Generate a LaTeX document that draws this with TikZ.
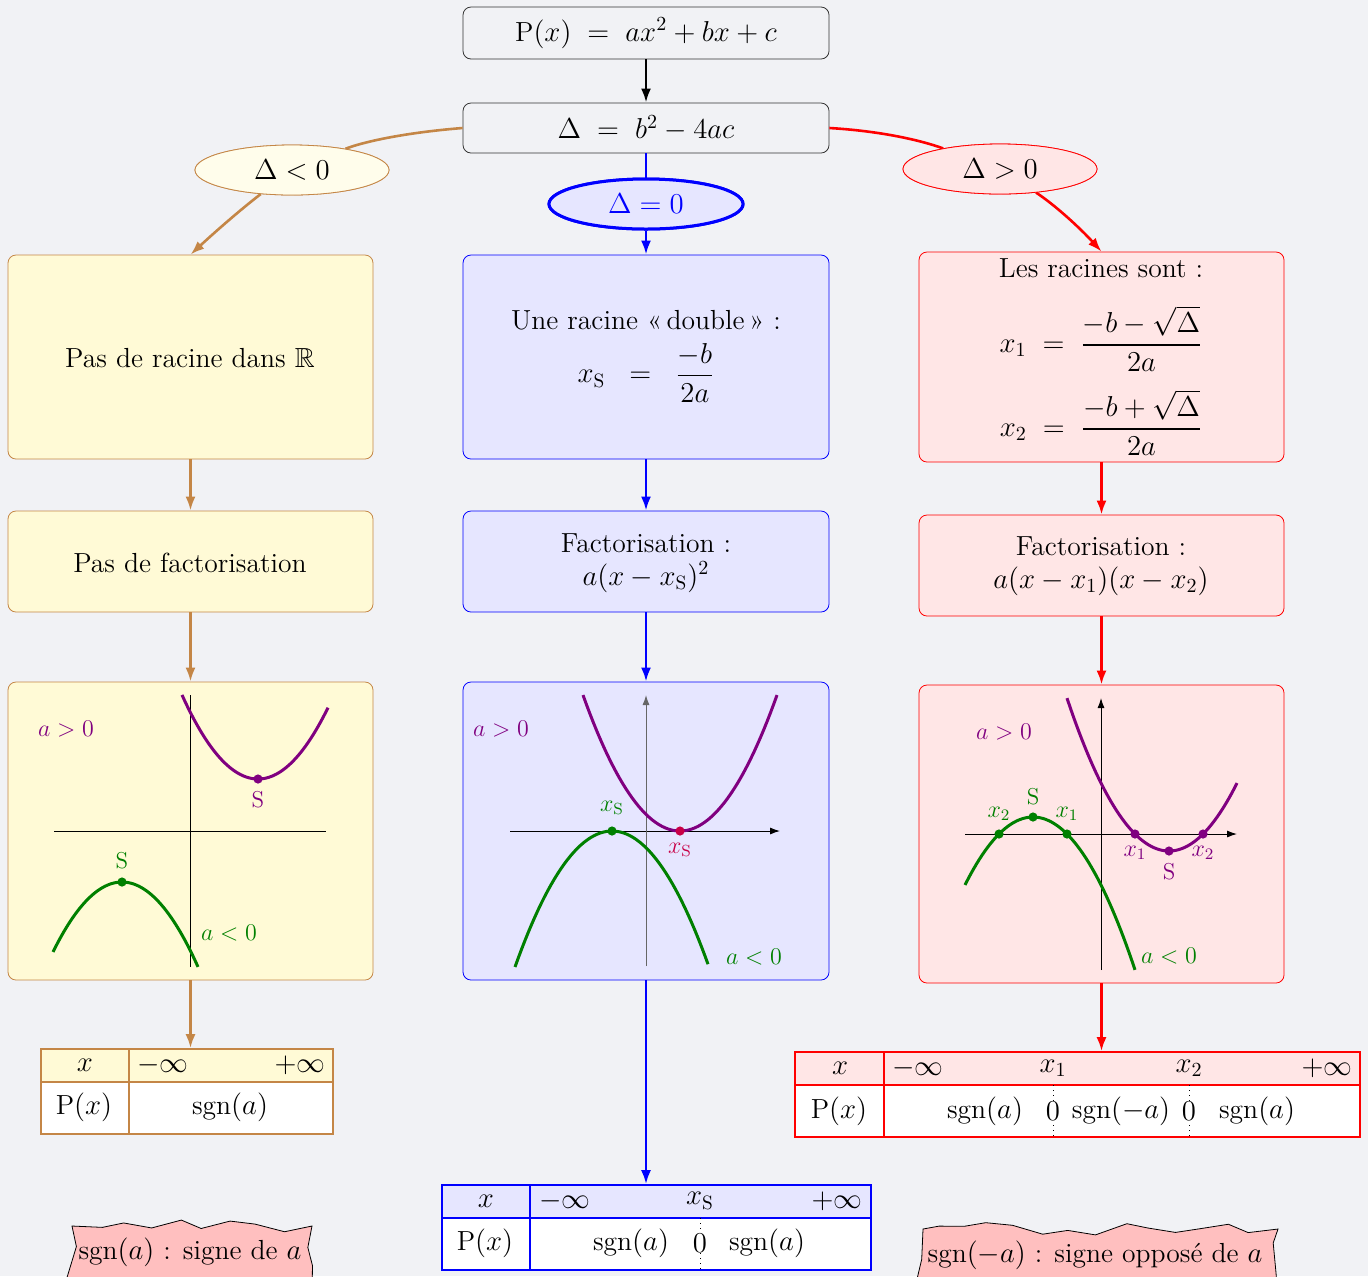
\documentclass[tikz,border=0pt]{standalone}
\usepackage{amsmath,amssymb}
\usepackage{fontspec}
\usetikzlibrary{shapes.geometric,arrows.meta,decorations.pathmorphing}
\definecolor{bgc}{RGB}{241,242,245}
\definecolor{yfill}{RGB}{255,250,214}
\definecolor{yefill}{RGB}{255,253,235}
\definecolor{bfill}{RGB}{230,230,255}
\definecolor{rfill}{RGB}{255,230,230}
\definecolor{tfill}{RGB}{255,191,191}
\definecolor{brc}{RGB}{196,134,70}
\definecolor{grn}{RGB}{0,128,0}
\definecolor{vio}{RGB}{128,0,128}
\definecolor{crim}{RGB}{200,0,70}
\tikzset{
  topbox/.style={draw=black!80, rounded corners=4pt, minimum width=183pt, inner sep=0pt},
  boxL/.style={draw=brc, fill=yfill, rounded corners=4pt, minimum width=182.5pt, inner sep=0pt},
  boxM/.style={draw=blue, fill=bfill, rounded corners=4pt, minimum width=183pt, inner sep=0pt},
  boxR/.style={draw=red, fill=rfill, rounded corners=4pt, minimum width=182.5pt, inner sep=0pt},
  ellbase/.style={ellipse, inner sep=0pt, minimum width=97pt, minimum height=25pt},
  ellL/.style={ellbase, draw=brc, fill=yefill},
  ellM/.style={ellbase, draw=blue, line width=1.5pt, fill=bfill, text=blue},
  ellR/.style={ellbase, draw=red, fill=rfill},
  tip/.style={-{Latex[length=7pt,width=5pt]}},
  conb/.style={draw=brc, line width=1.3pt},
  conl/.style={draw=blue, line width=1.3pt},
  conr/.style={draw=red, line width=1.3pt},
  conk/.style={draw=black, line width=1.3pt},
  curveV/.style={draw=vio, line width=1.5pt},
  curveG/.style={draw=grn, line width=1.5pt},
  axisline/.style={draw=black, line width=0.5pt},
  axisarrow/.style={draw=black, line width=0.5pt, -{Latex[length=5pt,width=3.5pt]}},
  small/.style={font=\fontsize{11.5}{13.5}\selectfont, inner sep=1pt},
  tabframe/.style={inner sep=0pt, minimum height=42.5pt, line width=0.8pt},
  torn/.style={draw=black, line width=0.4pt, fill=tfill, decorate,
     decoration={random steps, segment length=13pt, amplitude=3.5pt}, inner sep=0pt},
}
\begin{document}
\begin{tikzpicture}[x=0.5pt,y=0.5pt,font=\fontsize{13.8}{16.5}\selectfont]
\fill[bgc] (0,0) rectangle (1368,-1276);
\useasboundingbox (0,0) rectangle (1368,-1276);
\clip (0,0) rectangle (1368,-1276);

% ---------- top ----------
\node[topbox, minimum height=26pt] (P) at (646,-33) {$\mathrm{P}(x) \;=\; ax^2+bx+c$};
\node[topbox, minimum height=25pt] (D) at (646,-128) {$\Delta \;=\; b^2-4ac$};

% ---------- boxes ----------
\node[boxL, minimum height=102pt] (L1) at (190.5,-357) {};
\node[boxM, minimum height=102pt] (M1) at (646,-357) {};
\node[boxR, minimum height=105pt] (R1) at (1101.5,-357) {};
\node[boxL, minimum height=50.5pt] (L2) at (190.5,-561.5) {};
\node[boxM, minimum height=50.5pt] (M2) at (646,-561.5) {};
\node[boxR, minimum height=50.5pt] (R2) at (1101.5,-565.5) {};
\node[boxL, minimum height=149pt] (L3) at (190.5,-831) {};
\node[boxM, minimum height=149pt] (M3) at (646,-831) {};
\node[boxR, minimum height=149pt] (R3) at (1101.5,-834) {};

% ---------- tables (backgrounds) ----------
\fill[yfill] (41,-1049) rectangle (333,-1082);
\fill[white] (41,-1082) rectangle (333,-1134);
\fill[bfill] (442,-1185) rectangle (871,-1218);
\fill[white] (442,-1218) rectangle (871,-1270);
\fill[rfill] (795,-1052) rectangle (1360,-1085);
\fill[white] (795,-1085) rectangle (1360,-1137);
\node[tabframe, draw=brc, minimum width=146pt] (TL) at (187,-1091.5) {};
\node[tabframe, draw=blue, minimum width=214.5pt] (TM) at (656.5,-1227.5) {};
\node[tabframe, draw=red, minimum width=282.5pt] (TR) at (1077.5,-1094.5) {};
\draw[brc, line width=0.8pt] (41,-1082) -- (333,-1082) (129,-1049) -- (129,-1134);
\draw[blue, line width=0.8pt] (442,-1218) -- (871,-1218) (530,-1185) -- (530,-1270);
\draw[red, line width=0.8pt] (795,-1085) -- (1360,-1085) (884,-1052) -- (884,-1137);
\draw[black, dotted, line width=0.5pt] (700,-1218) -- (700,-1270);
\draw[black, dotted, line width=0.5pt] (1053,-1085) -- (1053,-1137);
\draw[black, dotted, line width=0.5pt] (1189,-1085) -- (1189,-1137);

% ---------- connectors ----------
\draw[conk, tip] (P) -- (D);
\node[ellL] (eL) at (292,-170) {};
\node[ellM] (eM) at (646,-204) {};
\node[ellR] (eR) at (1000,-169) {};
\draw[conb] (D.west) .. controls (400,-133) and (360,-143) .. (eL);
\draw[conb, tip] (eL) .. controls (240,-210) and (215,-232) .. (L1.north);
\draw[conl] (D) -- (eM);
\draw[conl, tip] (eM) -- (M1);
\draw[conr] (D.east) .. controls (880,-131) and (920,-140) .. (eR);
\draw[conr, tip] (eR) .. controls (1055,-205) and (1080,-228) .. (R1.north);
\node[ellL] (eL2) at (eL) {$\Delta<0$};
\node[ellM] (eM2) at (eM) {$\Delta=0$};
\node[ellR] (eR2) at (eR) {$\Delta>0$};

\coordinate (TLtop) at (L3.south |- TL.north);
\coordinate (TMtop) at (M3.south |- TM.north);
\coordinate (TRtop) at (R3.south |- TR.north);
\draw[conb, tip] (L1) -- (L2);
\draw[conb, tip] (L2) -- (L3);
\draw[conb, tip] (L3.south) -- (TLtop);
\draw[conl, tip] (M1) -- (M2);
\draw[conl, tip] (M2) -- (M3);
\draw[conl, tip] (M3.south) -- (TMtop);
\draw[conr, tip] (R1) -- (R2);
\draw[conr, tip] (R2) -- (R3);
\draw[conr, tip] (R3.south) -- (TRtop);

% ---------- box texts ----------
\node (L1t) at (190,-358) {Pas de racine dans $\mathbb{R}$};
\node (M1a) at (646,-320) {Une racine «\,double\,» :};
\node[inner sep=0pt] (M1b) at (646,-373) {$x_{\mathrm S}\;\;=\;\;\dfrac{-b}{2a}$};
\node[inner sep=0pt] (R1a) at (1101,-268) {Les racines sont :};
\node[inner sep=0pt] (R1b) at (1101,-339) {$x_1\;=\;\dfrac{-b-\sqrt{\Delta}}{2a}$};
\node[inner sep=0pt] (R1c) at (1101,-423) {$x_2\;=\;\dfrac{-b+\sqrt{\Delta}}{2a}$};
\node (L2t) at (190,-563) {Pas de factorisation};
\node (M2a) at (646,-543) {Factorisation :};
\node (M2b) at (646,-577) {$a(x-x_{\mathrm S})^2$};
\node (R2a) at (1101,-546) {Factorisation :};
\node (R2b) at (1101,-581) {$a(x-x_1)(x-x_2)$};

% ---------- left graph ----------
\draw[axisline] (54,-831) -- (326,-831);
\draw[axisline] (190,-695) -- (190,-967);
\draw[curveV] plot[domain=182:328, samples=60] (\x,{-779+0.01455*(\x-258)^2});
\draw[curveG] plot[domain=53:198, samples=60] (\x,{-882-0.0147*(\x-122)^2});
\fill[vio] (258,-779) circle (2.3pt);
\fill[grn] (122,-882) circle (2.3pt);
\node[small, text=vio] (LS1) at (258,-800) {S};
\node[small, text=grn] (LS2) at (122,-861) {S};
\node[small, text=vio] (La1) at (66,-729) {$a>0$};
\node[small, text=grn] (La2) at (229,-933) {$a<0$};

% ---------- middle graph ----------
\draw[axisarrow] (510,-831) -- (780,-831);
\draw[axisarrow, draw=black!60] (646,-966) -- (646,-695);
\draw[curveV] plot[domain=583:777, samples=60] (\x,{-831+0.01445*(\x-680)^2});
\draw[curveG] plot[domain=515:708, samples=60] (\x,{-831-0.01445*(\x-612)^2});
\fill[crim] (680,-831) circle (2.3pt);
\fill[grn] (612,-831) circle (2.3pt);
\node[small, text=crim] (MS1) at (680,-850) {$x_{\mathrm S}$};
\node[small, text=grn] (MS2) at (612,-808) {$x_{\mathrm S}$};
\node[small, text=vio] (Ma1) at (501,-729) {$a>0$};
\node[small, text=grn] (Ma2) at (754,-957) {$a<0$};

% ---------- right graph ----------
\draw[axisarrow] (965,-834) -- (1237,-834);
\draw[axisarrow] (1101,-970) -- (1101,-698);
\draw[curveV] plot[domain=1067:1237, samples=60] (\x,{-851+0.0147*(\x-1169)^2});
\draw[curveG] plot[domain=965:1135, samples=60] (\x,{-817-0.0147*(\x-1033)^2});
\fill[vio] (1135,-834) circle (2.3pt) (1169,-851) circle (2.3pt) (1203,-834) circle (2.3pt);
\fill[grn] (999,-834) circle (2.3pt) (1033,-817) circle (2.3pt) (1067,-834) circle (2.3pt);
\node[small, text=vio] (Rx1) at (1135,-853) {$x_1$};
\node[small, text=vio] (RS1) at (1169,-872) {S};
\node[small, text=vio] (Rx2) at (1203,-853) {$x_2$};
\node[small, text=grn] (Rg2) at (999,-814) {$x_2$};
\node[small, text=grn] (RS2) at (1033,-797) {S};
\node[small, text=grn] (Rg1) at (1067,-814) {$x_1$};
\node[small, text=vio] (Ra1) at (1004,-732) {$a>0$};
\node[small, text=grn] (Ra2) at (1169,-956) {$a<0$};

% ---------- table texts ----------
\node (TL1) at (85,-1065) {$x$};
\node (TL2) at (163,-1065) {$-\infty$};
\node (TL3) at (300,-1065) {$+\infty$};
\node (TL4) at (84,-1107) {$\mathrm{P}(x)$};
\node (TL5) at (230,-1107) {sgn$(a)$};

\node (TM1) at (486,-1201) {$x$};
\node (TM2) at (565,-1201) {$-\infty$};
\node (TM3) at (700,-1201) {$x_{\mathrm S}$};
\node (TM4) at (837,-1201) {$+\infty$};
\node (TM5) at (485,-1243) {$\mathrm{P}(x)$};
\node (TM6) at (631,-1243) {sgn$(a)$};
\node[fill=white, inner sep=0.5pt] (TM7) at (700,-1243) {$0$};
\node (TM8) at (767,-1243) {sgn$(a)$};

\node (TR1) at (840,-1068) {$x$};
\node (TR2) at (918,-1068) {$-\infty$};
\node (TR3) at (1053,-1068) {$x_1$};
\node (TR4) at (1189,-1068) {$x_2$};
\node (TR5) at (1327,-1068) {$+\infty$};
\node (TR6) at (839,-1111) {$\mathrm{P}(x)$};
\node (TR7) at (985,-1111) {sgn$(a)$};
\node[fill=white, inner sep=0.5pt] (TR8) at (1053,-1111) {$0$};
\node (TR9) at (1121,-1111) {sgn$(-a)$};
\node[fill=white, inner sep=0.5pt] (TR10) at (1189,-1111) {$0$};
\node (TR11) at (1257,-1111) {sgn$(a)$};

% ---------- torn labels ----------
\pgfmathsetseed{11}
\node[torn, minimum width=120pt, minimum height=36pt] (TgL) at (192,-1262) {};
\node (TgLt) at (190,-1252) {sgn$(a)$ : signe de $a$};
\node[torn, minimum width=177.5pt, minimum height=36pt] (TgR) at (1100.5,-1265) {};
\node (TgRt) at (1095,-1255) {sgn$(-a)$ : signe opposé de $a$};
\end{tikzpicture}
\end{document}
